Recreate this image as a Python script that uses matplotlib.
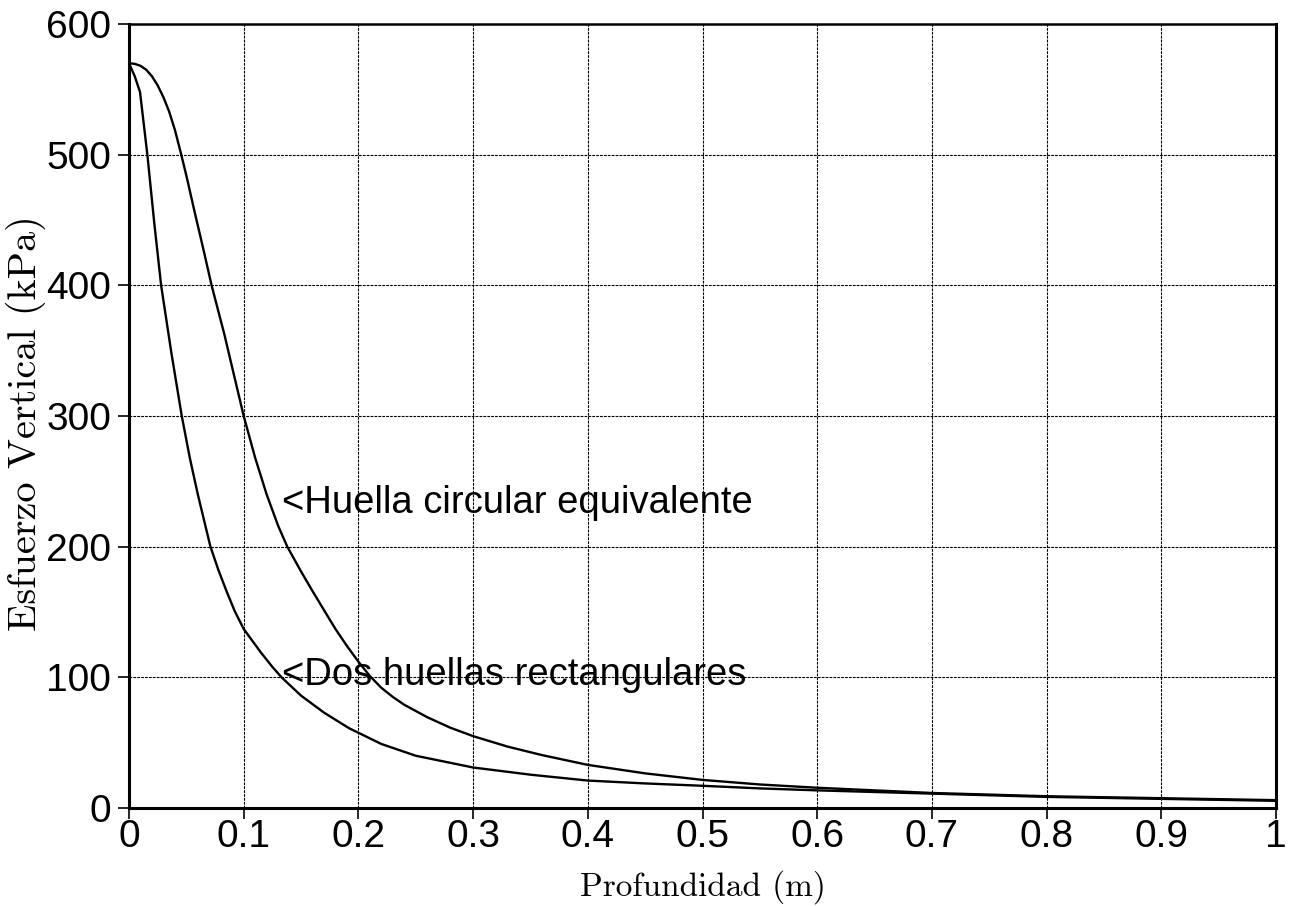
import matplotlib
matplotlib.use("Agg")
import matplotlib.pyplot as plt

# Profundidad (m) y esfuerzo vertical (kPa): huella circular equivalente
prof_circular = [0.0, 0.005, 0.01, 0.015, 0.02, 0.025, 0.03, 0.035, 0.04, 0.045,
                 0.05, 0.057, 0.065, 0.072, 0.083, 0.09, 0.10, 0.11, 0.12, 0.13,
                 0.138, 0.15, 0.16, 0.171, 0.18, 0.19, 0.20, 0.21, 0.22, 0.23,
                 0.24, 0.26, 0.28, 0.30, 0.33, 0.36, 0.40, 0.45, 0.50, 0.55,
                 0.60, 0.65, 0.70, 0.80, 0.90, 1.00]
esf_circular = [570, 569.5, 568, 565, 560, 553, 544, 533, 519, 502,
                484, 457, 427, 400, 363, 337, 300, 268, 240, 216,
                200, 181, 166, 150, 137, 124, 112, 101, 92, 85,
                79, 69.5, 61.5, 55, 47, 40.5, 33, 26.5, 21.5, 18,
                15.5, 13.5, 11.5, 9, 7.5, 6]

# Dos huellas rectangulares
prof_rect = [0.0, 0.005, 0.0096, 0.016, 0.022, 0.028, 0.037, 0.046, 0.053, 0.06,
             0.071, 0.078, 0.085, 0.092, 0.10, 0.115, 0.125, 0.133, 0.15, 0.17,
             0.192, 0.22, 0.25, 0.30, 0.35, 0.40, 0.45, 0.50, 0.55, 0.60,
             0.70, 0.80, 0.90, 1.00]
esf_rect = [570, 560, 548, 500, 448, 400, 348, 300, 268, 240,
            200, 182, 166, 151, 137, 119, 108, 100, 86, 73,
            61, 49, 40, 31, 25.5, 21, 18.8, 17, 15, 13.5,
            11, 8.5, 7, 5.5]

xticks = [0, 0.1, 0.2, 0.3, 0.4, 0.5, 0.6, 0.7, 0.8, 0.9, 1]
xticklabels = ["0", "0.1", "0.2", "0.3", "0.4", "0.5", "0.6", "0.7", "0.8", "0.9", "1"]
yticks = [0, 100, 200, 300, 400, 500, 600]

etiquetas = ["<Huella circular equivalente", "<Dos huellas rectangulares"]
pos_etiquetas = [(0.1335, 226), (0.1335, 94)]

sans = ["Liberation Sans", "DejaVu Sans"]
serif = ["cmr10", "DejaVu Serif"]

W, H = 1291, 906
fig = plt.figure(figsize=(W / 100, H / 100), dpi=100)
ax = fig.add_axes([129 / W, 1 - 808 / H, (1276 - 129) / W, (808 - 24) / H])

ax.plot(prof_circular, esf_circular, color="black", lw=1.7, solid_joinstyle="round")
ax.plot(prof_rect, esf_rect, color="black", lw=1.7, solid_joinstyle="round")

ax.set_xlim(0, 1)
ax.set_ylim(0, 600)
ax.set_xticks(xticks)
ax.set_xticklabels(xticklabels)
ax.set_yticks(yticks)

ax.grid(True, color="black", lw=0.8, linestyle=(0, (2.5, 1)))
ax.set_axisbelow(True)

for lado in ["left", "bottom", "right"]:
    ax.spines[lado].set_linewidth(2.2)
ax.spines["top"].set_linewidth(1.8)

ax.tick_params(axis="both", direction="out", length=8, width=1.2, color="black",
               labelsize=28)
ax.tick_params(axis="x", pad=0)
ax.tick_params(axis="y", pad=5)
for lbl in ax.get_xticklabels() + ax.get_yticklabels():
    lbl.set_family(sans)

for texto, (x, y) in zip(etiquetas, pos_etiquetas):
    ax.text(x, y, texto, fontsize=27.5, family=sans, va="baseline", ha="left")

# Títulos de los ejes
fig.text(0.5 * (129 + 1276) / W, 1 - 896 / H, "Profundidad (m)", fontsize=24,
         family=serif, ha="center", va="baseline")
fig.text(26 / W, 1 - 423 / H, "Esfuerzo Vertical (kPa)", fontsize=29,
         family=serif, rotation=90, ha="center", va="center")

fig.savefig("out.png", dpi=100, facecolor="white")
